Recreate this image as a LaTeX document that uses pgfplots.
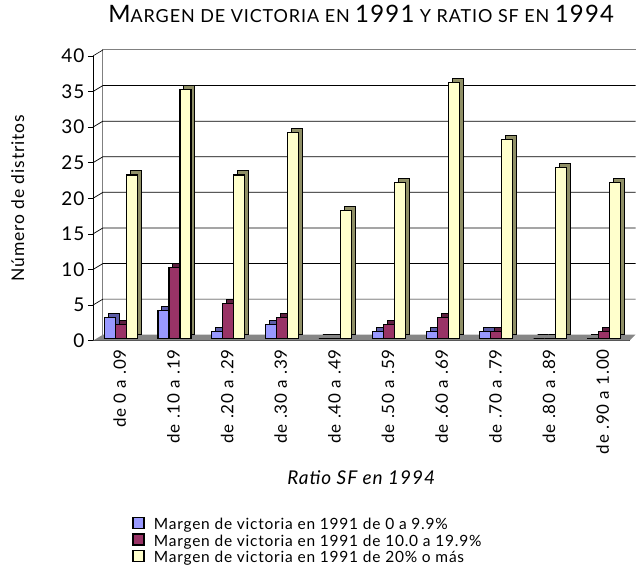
\documentclass[border=0pt]{standalone}
\usepackage{pgfplots}
\pgfplotsset{compat=1.18}
\usepackage{fontspec}
\setmainfont[LetterSpace=5]{Lato}
\definecolor{sA}{HTML}{9999FF}
\definecolor{sB}{HTML}{993366}
\definecolor{sC}{HTML}{FFFFCC}
\definecolor{dA}{HTML}{5C5CA8}
\definecolor{dB}{HTML}{5E1F40}
\definecolor{dC}{HTML}{8F8F66}
\pgfplotstableread{
x a b c
0 3 2 23
1 4 10 35
2 1 5 23
3 2 3 29
4 0 0 18
5 1 2 22
6 1 3 36
7 1 1 28
8 0 0 24
9 0 1 22
}\data
\begin{document}
\begin{tikzpicture}
\path (-93pt,-236pt) rectangle (543pt,341pt);
\begin{axis}[
  at={(0,0)}, anchor=south west,
  scale only axis, width=537pt, height=285pt,
  xmin=-0.5, xmax=9.5, ymin=0, ymax=40,
  clip=false,
  axis x line*=bottom, axis y line*=left,
  axis line style={black,-, line width=0.8pt},
  ytick={0,5,...,40},
  xtick={0,...,9},
  xticklabels={de 0 a .09,de .10 a .19,de .20 a .29,de .30 a .39,de .40 a .49,de .50 a .59,de .60 a .69,de .70 a .79,de .80 a .89,de .90 a 1.00},
  xticklabel style={rotate=90, anchor=east, font=\fontsize{17}{18}\selectfont},
  extra x ticks={0.5,1.5,...,8.5}, extra x tick labels={},
  extra x tick style={major tick length=8pt, tick style={black, line width=0.8pt}},
  xtick style={draw=none},
  major tick length=5pt,
  tick style={black, line width=0.8pt},
  y tick label style={font=\fontsize{19}{20}\selectfont},
  /pgf/number format/assume math mode=true,
  tick align=outside,
  xlabel={\itshape Ratio SF en 1994},
  xlabel style={at={(axis description cs:0.5,-0.481)}, anchor=center, font=\fontsize{19}{20}\selectfont},
  ylabel={Número de distritos},
  ylabel style={at={(axis description cs:-0.14,0.5)}, anchor=center, font=\fontsize{17.5}{18}\selectfont},
  title={{\fontsize{24}{26}\selectfont M}{\fontsize{18}{20}\selectfont ARGEN DE VICTORIA EN }{\fontsize{24}{26}\selectfont 1991}{\fontsize{18}{20}\selectfont\ Y RATIO SF EN }{\fontsize{24}{26}\selectfont 1994}},
  title style={at={(axis description cs:0.5,1.126)}, anchor=center},
  legend style={at={(axis description cs:0.073,-0.617)}, anchor=north west, draw=none, fill=none,
    font=\fontsize{15.5}{17}\selectfont, row sep=1pt, inner sep=0pt,
    nodes={inner sep=1pt}},
  legend cell align=left,
  legend image code/.code={\draw[#1, draw=black, line width=1.3pt] (0pt,-5.5pt) rectangle (11pt,5.5pt); \path[draw=none, fill=none] (0pt,0pt) -- (20pt,0pt);},
]
% floor and back wall
\fill[gray!95] (axis cs:-0.5,0) -- (axis cs:9.5,0) -- ([xshift=6pt,yshift=6pt]axis cs:9.5,0) -- ([xshift=10pt,yshift=6pt]axis cs:-0.5,0) -- cycle;
\draw[gray, line width=1pt] ([xshift=10pt,yshift=6pt]axis cs:-0.5,0) -- ([xshift=10pt,yshift=6pt]axis cs:-0.5,40) -- ([xshift=6pt,yshift=6pt]axis cs:9.5,40);
\draw[black, line width=0.6pt] (axis cs:-0.5,40) -- ([xshift=10pt,yshift=6pt]axis cs:-0.5,40);
\pgfplotsinvokeforeach{5,10,15,20,25,30,35}{
  \draw[black, line width=0.7pt] (axis cs:-0.5,#1) -- ([xshift=10pt,yshift=6pt]axis cs:-0.5,#1) -- ([xshift=6pt,yshift=6pt]axis cs:9.5,#1);
}
% depth faces and front faces
\addplot[ybar, bar width=11pt, bar shift=-10pt, fill=dA, draw=black, line width=1pt, xshift=4pt, yshift=6pt, forget plot] table[x=x,y=a]{\data};
\addplot[ybar, bar width=11pt, bar shift=-10pt, fill=sA, draw=black, line width=1.2pt, yshift=2pt] table[x=x,y=a]{\data};
\addlegendentry{Margen de victoria en 1991 de 0 a 9.9\%}
\addplot[ybar, bar width=11pt, bar shift=1pt, fill=dB, draw=black, line width=1pt, xshift=4pt, yshift=6pt, forget plot] table[x=x,y=b]{\data};
\addplot[ybar, bar width=11pt, bar shift=1pt, fill=sB, draw=black, line width=1.2pt, yshift=2pt] table[x=x,y=b]{\data};
\addlegendentry{Margen de victoria en 1991 de 10.0 a 19.9\%}
\addplot[ybar, bar width=11pt, bar shift=12pt, fill=dC, draw=black, line width=1pt, xshift=4pt, yshift=6pt, forget plot] table[x=x,y=c]{\data};
\addplot[ybar, bar width=11pt, bar shift=12pt, fill=sC, draw=black, line width=1.2pt, yshift=2pt] table[x=x,y=c]{\data};
\addlegendentry{Margen de victoria en 1991 de 20\% o más}
\end{axis}
\end{tikzpicture}
\end{document}
